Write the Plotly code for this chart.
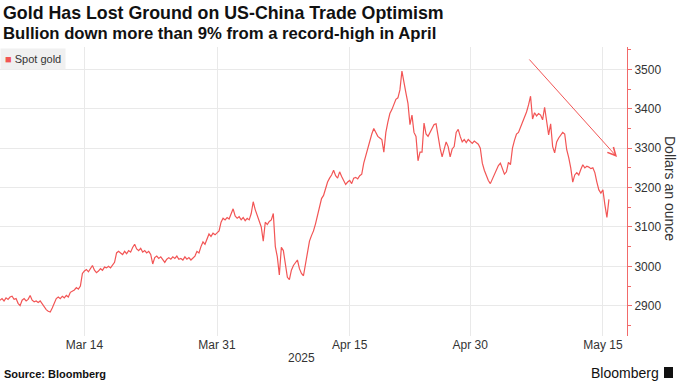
import plotly.graph_objects as go

# ---- data ----
dates = ["2025-03-05", "2025-03-06", "2025-03-07", "2025-03-10", "2025-03-11", "2025-03-12",
         "2025-03-13", "2025-03-14", "2025-03-17", "2025-03-18", "2025-03-19", "2025-03-20",
         "2025-03-21", "2025-03-24", "2025-03-25", "2025-03-26", "2025-03-27", "2025-03-28",
         "2025-03-31", "2025-04-01", "2025-04-02", "2025-04-03", "2025-04-04", "2025-04-07",
         "2025-04-08", "2025-04-09", "2025-04-10", "2025-04-11", "2025-04-14", "2025-04-15",
         "2025-04-16", "2025-04-17", "2025-04-21", "2025-04-22", "2025-04-23", "2025-04-24",
         "2025-04-25", "2025-04-28", "2025-04-29", "2025-04-30", "2025-05-01", "2025-05-02",
         "2025-05-05", "2025-05-06", "2025-05-07", "2025-05-08", "2025-05-09", "2025-05-12",
         "2025-05-13", "2025-05-14", "2025-05-15"]
sample_hours = [0, 4, 8, 12, 16, 20]
spot_gold = [
    [2914, 2918, 2912, 2920, 2916, 2922],
    [2924, 2916, 2918, 2906, 2900, 2914],
    [2918, 2912, 2916, 2926, 2914, 2910],
    [2912, 2908, 2912, 2904, 2898, 2890],
    [2886, 2884, 2894, 2908, 2918, 2922],
    [2918, 2924, 2920, 2926, 2922, 2934],
    [2936, 2940, 2946, 2942, 2950, 2982],
    [2988, 2992, 2986, 2996, 3002, 2990],
    [2984, 2988, 2994, 2990, 2998, 2996],
    [3000, 2996, 3002, 3010, 3034, 3038],
    [3034, 3030, 3038, 3032, 3040, 3036],
    [3048, 3056, 3044, 3040, 3046, 3036],
    [3040, 3034, 3038, 3030, 3006, 3022],
    [3026, 3020, 3024, 3016, 3010, 3018],
    [3022, 3018, 3024, 3020, 3026, 3018],
    [3020, 3016, 3024, 3018, 3022, 3016],
    [3020, 3026, 3038, 3034, 3050, 3062],
    [3056, 3070, 3082, 3076, 3084, 3080],
    [3086, 3090, 3112, 3122, 3118, 3124],
    [3120, 3132, 3146, 3128, 3122, 3126],
    [3118, 3124, 3116, 3122, 3118, 3134],
    [3164, 3144, 3130, 3116, 3100, 3064],
    [3112, 3106, 3114, 3118, 3134, 3050],
    [3024, 2978, 3048, 3040, 3010, 2972],
    [2966, 2990, 3002, 3010, 3016, 2994],
    [2982, 2976, 3004, 3040, 3064, 3078],
    [3090, 3108, 3130, 3150, 3172, 3180],
    [3200, 3214, 3224, 3232, 3244, 3230],
    [3224, 3240, 3228, 3218, 3208, 3214],
    [3218, 3210, 3224, 3226, 3222, 3230],
    [3234, 3262, 3282, 3296, 3316, 3336],
    [3350, 3338, 3330, 3326, 3322, 3290],
    [3340, 3366, 3388, 3398, 3414, 3424],
    [3428, 3448, 3496, 3472, 3440, 3414],
    [3360, 3384, 3340, 3330, 3268, 3290],
    [3290, 3364, 3336, 3330, 3340, 3348],
    [3360, 3362, 3326, 3300, 3278, 3296],
    [3316, 3304, 3278, 3298, 3304, 3340],
    [3348, 3330, 3316, 3322, 3314, 3322],
    [3316, 3312, 3318, 3314, 3310, 3300],
    [3262, 3244, 3230, 3218, 3210, 3222],
    [3236, 3244, 3256, 3262, 3250, 3234],
    [3240, 3264, 3258, 3300, 3320, 3336],
    [3340, 3352, 3366, 3380, 3392, 3410],
    [3432, 3374, 3390, 3382, 3388, 3384],
    [3372, 3404, 3362, 3334, 3362, 3304],
    [3288, 3316, 3326, 3332, 3340, 3336],
    [3296, 3276, 3250, 3214, 3232, 3238],
    [3232, 3246, 3258, 3250, 3254, 3252],
    [3248, 3250, 3238, 3214, 3194, 3186],
    [3194, 3156, 3124, 3170],
]
x_tick_vals = ["2025-03-14", "2025-03-31", "2025-04-15", "2025-04-30", "2025-05-15"]
x_tick_text = ["Mar 14", "Mar 31", "Apr 15", "Apr 30", "May 15"]
y_tick_vals = [2900, 3000, 3100, 3200, 3300, 3400, 3500]
holidays = ["2025-04-18"]

times, values = [], []
for d, row in zip(dates, spot_gold):
    for h, v in zip(sample_hours, row):
        times.append(f"{d} {h:02d}:00")
        values.append(v)

RED = "#f25555"
AXIS_RED = "#f26a6a"
GRID = "#e9e9e9"
TXT = "#333333"
FONT = "Liberation Sans, Arial, sans-serif"

W, H = 680, 382
ML, MR, MT, MB = 0, 53, 47, 46
PH = H - MT - MB
PW = W - ML - MR


def px(xp):
    return (xp - ML) / PW


def py(yp):
    return (H - MB - yp) / PH


fig = go.Figure()
fig.add_trace(go.Scatter(x=times, y=values, mode="lines",
                         line=dict(color=RED, width=1.2), showlegend=False,
                         hoverinfo="x+y"))

fig.update_layout(
    width=W, height=H,
    margin=dict(l=ML, r=MR, t=MT, b=MB, autoexpand=False),
    paper_bgcolor="white", plot_bgcolor="white",
    font=dict(family=FONT, color=TXT, size=12),
    showlegend=False,
    xaxis=dict(
        type="date",
        range=["2025-03-05 00:00", "2025-05-16 23:59"],
        rangebreaks=[dict(bounds=["sat", "mon"]), dict(values=holidays)],
        tickmode="array", tickvals=x_tick_vals, ticktext=x_tick_text,
        showgrid=True, gridcolor=GRID, gridwidth=1,
        showline=False, zeroline=False, ticks="",
        tickfont=dict(size=12, color=TXT), automargin=False,
    ),
    yaxis=dict(
        side="right", range=[2823, 3557],
        tickmode="array", tickvals=y_tick_vals,
        showgrid=True, gridcolor=GRID, gridwidth=1,
        showline=True, linecolor=AXIS_RED, linewidth=1,
        ticks="outside", ticklen=4, tickcolor=AXIS_RED, tickwidth=1,
        minor=dict(dtick=50, tick0=2850, ticks="outside", ticklen=3,
                   tickcolor=AXIS_RED, showgrid=False),
        zeroline=False, automargin=False,
        tickfont=dict(size=12, color=TXT),
    ),
)

annotations = [
    dict(text="<b>Gold Has Lost Ground on US-China Trade Optimism</b>",
         x=px(1), y=py(13.5), xanchor="left", yanchor="middle",
         font=dict(size=17.8, color="#111111", family=FONT)),
    dict(text="<b>Bullion down more than 9% from a record-high in April</b>",
         x=px(1), y=py(34), xanchor="left", yanchor="middle",
         font=dict(size=16.7, color="#111111", family=FONT)),
    dict(text=f"<span style='color:{RED}'>■</span> Spot gold",
         x=px(0), y=py(48), xanchor="left", yanchor="top",
         bgcolor="#f0f0f0", borderpad=4,
         font=dict(size=11, color=TXT, family=FONT)),
    dict(text="2025", x=px(301), y=py(358), xanchor="center", yanchor="middle",
         font=dict(size=12, color=TXT, family=FONT)),
    dict(text="Dollars an ounce", x=px(670), y=py(188), textangle=90,
         xanchor="center", yanchor="middle",
         font=dict(size=14, color=TXT, family=FONT)),
    dict(text="<b>Source: Bloomberg</b>", x=px(2), y=py(374),
         xanchor="left", yanchor="middle",
         font=dict(size=11, color="#111111", family=FONT)),
    dict(text="Bloomberg", x=px(661), y=py(373), xanchor="right", yanchor="middle",
         font=dict(size=14, color="#111111", family=FONT)),
    # trend arrow
    dict(text="", x=px(617), y=py(157), ax=528 - 617, ay=58 - 157,
         showarrow=True, arrowhead=5, arrowsize=1.6, arrowwidth=1,
         arrowcolor=RED),
]
for a in annotations:
    a.setdefault("xref", "paper")
    a.setdefault("yref", "paper")
    a.setdefault("showarrow", False)
fig.update_layout(annotations=annotations)

fig.add_shape(type="rect", xref="paper", yref="paper",
              x0=px(664), x1=px(673), y0=py(378), y1=py(367),
              fillcolor="#111111", line=dict(width=0))

fig.write_html("out.html",
               config={"displayModeBar": False},
               post_script="document.body.style.margin='0';"
                           "document.body.style.overflow='hidden';")
